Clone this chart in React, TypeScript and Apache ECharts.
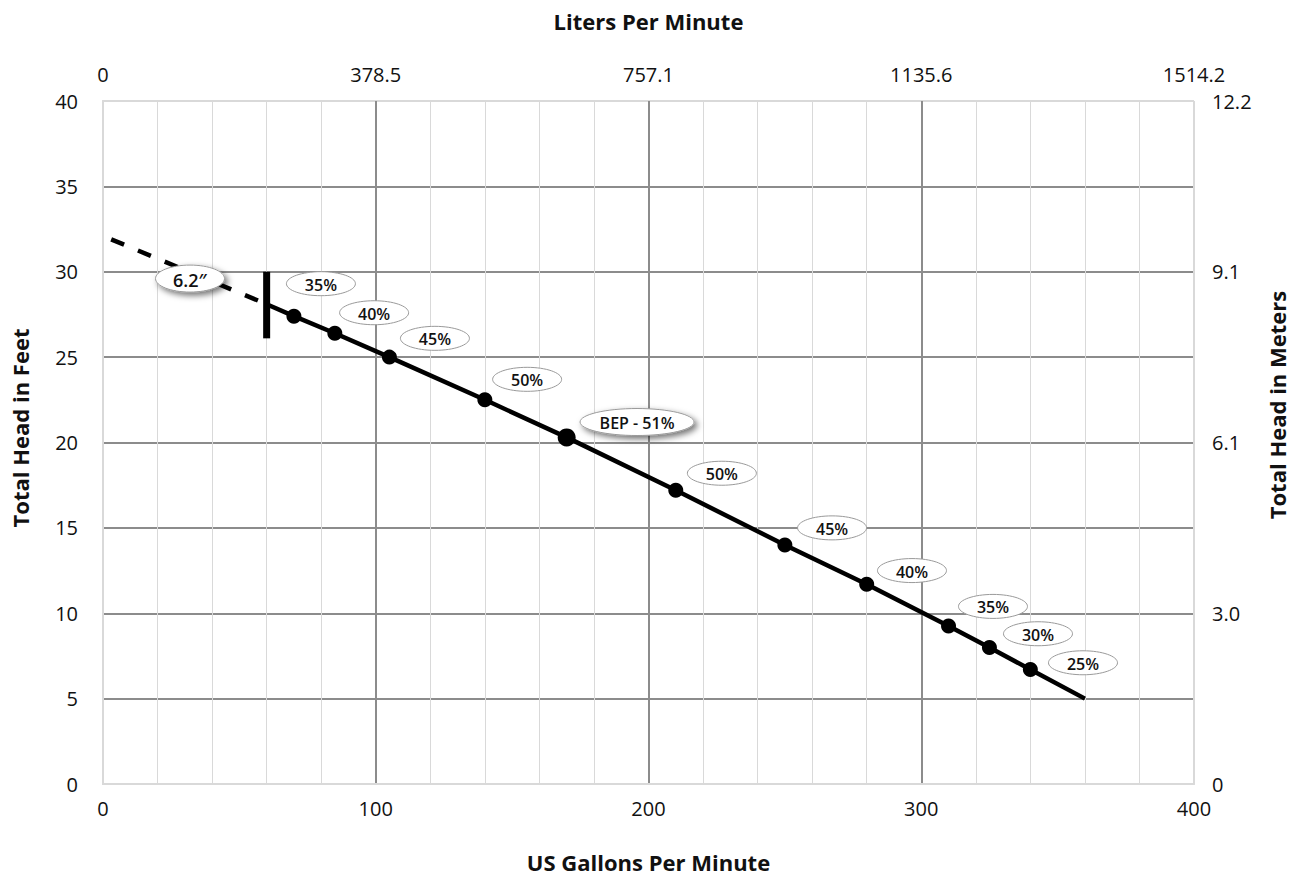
import React, { useEffect, useRef } from 'react';
import * as echarts from 'echarts';

// Efficiency points on the pump curve
const pointGpm = [70, 85, 105, 140, 170, 210, 250, 280, 310, 325, 340];
const pointFt = [27.4, 26.4, 25.0, 22.5, 20.3, 17.2, 14.0, 11.7, 9.25, 8.0, 6.7];
const bepIndex = 4;

// Solid curve ends
const curveStartGpm = 60;
const curveStartFt = 28.1;
const curveEndGpm = 360;
const curveEndFt = 5.0;

// Dashed (extrapolated) portion
const dashGpm = [3, 60];
const dashFt = [31.9, 28.1];

// Vertical minimum-flow marker
const markerGpm = [60, 60];
const markerFt = [30.0, 26.1];

// Annotations (label text and anchor in data units)
const annoText = ['6.2″', '35%', '40%', '45%', '50%', 'BEP - 51%', '50%', '45%', '40%', '35%', '30%', '25%'];
const annoGpm = [31.9, 79.9, 99.4, 121.7, 155.5, 195.8, 226.9, 267.3, 296.6, 326.3, 342.8, 359.3];
const annoFt = [29.6, 29.3, 27.6, 26.1, 23.7, 21.2, 18.2, 15.0, 12.5, 10.4, 8.8, 7.1];

// Secondary axis tick labels
const literLabels = ['0', '378.5', '757.1', '1135.6', '1514.2'];
const meterLabels = ['0', '3.0', '6.1', '9.1', '12.2'];

// Axis titles
const titleBottom = 'US Gallons Per Minute';
const titleTop = 'Liters Per Minute';
const titleLeft = 'Total Head in Feet';
const titleRight = 'Total Head in Meters';

const FONT = "'Open Sans', 'Noto Sans', sans-serif";
const TXT = '#111111';
const LIGHT = '#d9d9d9';
const MAJOR = '#8c8c8c';

export default function App() {
  const ref = useRef<HTMLDivElement>(null);
  useEffect(() => {
    const chart = echarts.init(ref.current!, null, { renderer: 'svg' });
    const solid = [[curveStartGpm, curveStartFt]]
      .concat(pointGpm.map((g, i) => [g, pointFt[i]]))
      .concat([[curveEndGpm, curveEndFt]]);
    const axisLabel = { color: TXT, fontSize: 20, fontFamily: FONT };
    const nameStyle = { color: TXT, fontSize: 22, fontWeight: 'bold' as const, fontFamily: FONT };
    const sideTitle = (text: string, x: number, y: number) => ({
      type: 'text', x, y, rotation: Math.PI / 2, silent: true,
      style: { text, align: 'center', verticalAlign: 'middle', fill: TXT, fontSize: 22, fontWeight: 'bold', fontFamily: FONT },
    });
    const option: any = {
      animation: false,
      grid: { left: 103, right: 97, top: 101, bottom: 94, outerBoundsMode: 'none', containLabel: false },
      graphic: [sideTitle(titleLeft, 20, 428), sideTitle(titleRight, 1277, 405)],
      xAxis: [
        {
          type: 'value', position: 'bottom', min: 0, max: 400, interval: 100,
          name: titleBottom, nameLocation: 'middle', nameGap: 67,
          nameTextStyle: nameStyle,
          axisLabel: { ...axisLabel, margin: 14 },
          axisLine: { show: true, lineStyle: { color: LIGHT, width: 2 } },
          axisTick: { show: false },
          splitLine: { show: true, lineStyle: { color: [LIGHT, MAJOR, MAJOR, MAJOR, LIGHT], width: 2 } },
          minorTick: { show: false, splitNumber: 5 },
          minorSplitLine: { show: true, lineStyle: { color: LIGHT, width: 1 } },
        },
        {
          type: 'value', position: 'top', min: 0, max: 400, interval: 100,
          name: titleTop, nameLocation: 'middle', nameGap: 69,
          nameTextStyle: nameStyle,
          axisLabel: { ...axisLabel, margin: 17, formatter: (v: number) => literLabels[Math.round(v / 100)] },
          axisLine: { show: true, lineStyle: { color: LIGHT, width: 2 } },
          axisTick: { show: false },
          splitLine: { show: false },
        },
      ],
      yAxis: [
        {
          type: 'value', position: 'left', min: 0, max: 40, interval: 5,
          axisLabel: { ...axisLabel, margin: 25 },
          axisLine: { show: true, lineStyle: { color: LIGHT, width: 2 } },
          axisTick: { show: false },
          splitLine: { show: true, lineStyle: { color: [LIGHT, MAJOR, MAJOR, MAJOR, MAJOR, MAJOR, MAJOR, MAJOR, LIGHT], width: 2 } },
        },
        {
          type: 'value', position: 'right', min: 0, max: 40, interval: 10,
          axisLabel: { ...axisLabel, margin: 18, formatter: (v: number) => meterLabels[Math.round(v / 10)] },
          axisLine: { show: true, lineStyle: { color: LIGHT, width: 2 } },
          axisTick: { show: false },
          splitLine: { show: false },
        },
      ],
      series: [
        {
          type: 'line', data: dashGpm.map((g, i) => [g, dashFt[i]]), showSymbol: false, z: 3,
          lineStyle: { color: '#000', width: 4.5, type: [14, 15] },
        },
        {
          type: 'line', data: solid, showSymbol: false, z: 3,
          lineStyle: { color: '#000', width: 4.5 },
        },
        {
          type: 'line', data: markerGpm.map((g, i) => [g, markerFt[i]]), showSymbol: false, z: 4,
          lineStyle: { color: '#000', width: 7, cap: 'butt' },
        },
        {
          type: 'scatter', z: 5,
          data: pointGpm.map((g, i) => [g, pointFt[i]]),
          symbolSize: (_v: any, p: any) => (p.dataIndex === bepIndex ? 18 : 15),
          itemStyle: { color: '#000', opacity: 1 },
        },
        {
          type: 'custom', z: 10,
          data: annoGpm.map((g, i) => [g, annoFt[i]]),
          renderItem: (params: any, api: any) => {
            const c = api.coord([api.value(0), api.value(1)]);
            const i = params.dataIndex;
            const text = annoText[i];
            const isBep = text.indexOf('BEP') === 0;
            const isSize = i === 0;
            const special = isBep || isSize;
            const rx = isBep ? 57 : 34.5;
            const ry = special ? 13.5 : 12;
            return {
              type: 'group',
              children: [
                {
                  type: 'ellipse',
                  shape: { cx: c[0], cy: c[1], rx, ry },
                  style: special
                    ? { fill: '#fff', stroke: '#9a9a9a', lineWidth: 1, shadowBlur: 6, shadowColor: 'rgba(0,0,0,0.55)', shadowOffsetX: 3, shadowOffsetY: 3 }
                    : { fill: '#fff', stroke: '#9a9a9a', lineWidth: 1 },
                },
                {
                  type: 'text',
                  style: {
                    text, x: c[0], y: c[1] + 1, align: 'center', verticalAlign: 'middle',
                    fontSize: isSize ? 18 : 16, fontWeight: 600, fontFamily: FONT, fill: '#111',
                  },
                },
              ],
            };
          },
        },
      ],
    };
    chart.setOption(option);
    return () => chart.dispose();
  }, []);
  return <div ref={ref} style={{ position: 'absolute', left: 0, top: 0, width: 1291, height: 878, background: '#fff' }} />;
}
